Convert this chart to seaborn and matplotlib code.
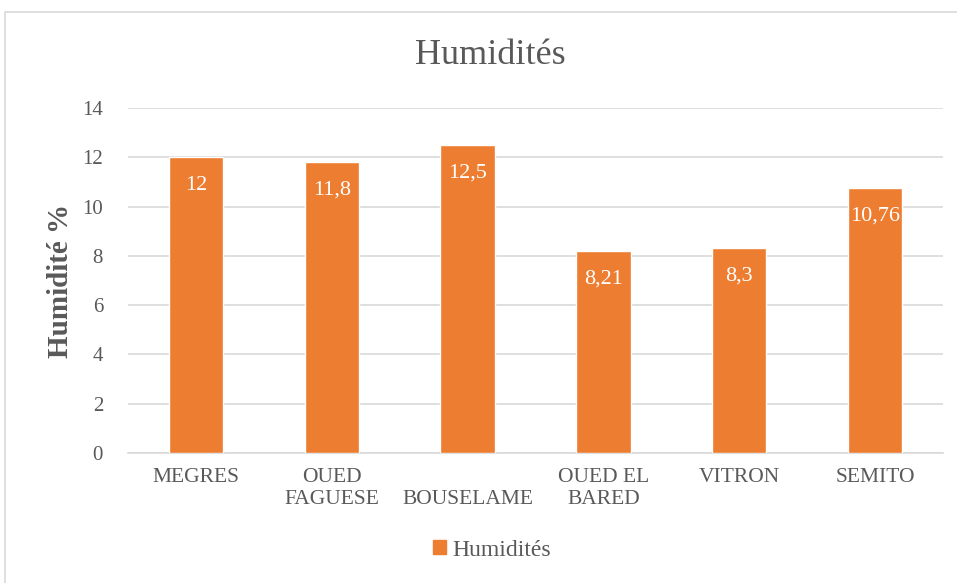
import pandas as pd
import seaborn as sns
import matplotlib.pyplot as plt
from matplotlib.patches import Rectangle, Patch

# Data
sites = ['MEGRES', 'OUED\nFAGUESE', '\nBOUSELAME', 'OUED EL\nBARED', 'VITRON', 'SEMITO']
humidity = [12, 11.8, 12.5, 8.21, 8.3, 10.76]
value_labels = ['12', '11,8', '12,5', '8,21', '8,3', '10,76']
y_ticks = [0, 2, 4, 6, 8, 10, 12, 14]

BAR_COLOR = '#ED7D31'
TEXT_COLOR = '#595959'
GRID_COLOR = '#D9D9D9'


def main():
    sns.set_style('white')
    plt.rcParams['font.family'] = ['Liberation Serif', 'DejaVu Serif']

    df = pd.DataFrame({'site': sites, 'humidity': humidity})

    fig = plt.figure(figsize=(9.57, 5.83), dpi=100)
    ax = fig.add_axes([128 / 957, 1 - 453 / 583, (943 - 128) / 957, (453 - 108) / 583])

    sns.barplot(data=df, x='site', y='humidity', color=BAR_COLOR, width=0.4,
                saturation=1, ax=ax, zorder=3)

    # value labels inside the top of the bars
    for i, (v, lab) in enumerate(zip(humidity, value_labels)):
        ax.annotate(lab, xy=(i, v), xytext=(0, -28), textcoords='offset pixels',
                    ha='center', va='center', color='white', fontsize=16)

    ax.set_ylim(0, 14)
    ax.set_yticks(y_ticks)
    ax.set_yticklabels([str(t) for t in y_ticks], fontsize=15, color=TEXT_COLOR)
    ax.grid(axis='y', color=GRID_COLOR, linewidth=1.2, zorder=0)
    ax.set_axisbelow(True)
    for s in ['top', 'right', 'left']:
        ax.spines[s].set_visible(False)
    ax.spines['bottom'].set_color(GRID_COLOR)
    ax.spines['bottom'].set_linewidth(1.2)
    ax.tick_params(axis='both', length=0)
    ax.tick_params(axis='y', pad=18)
    ax.tick_params(axis='x', pad=11)
    for t in ax.get_xticklabels():
        t.set_fontsize(15.5)
        t.set_color(TEXT_COLOR)
        t.set_verticalalignment('top')
        t.set_linespacing(1.2)

    ax.set_xlabel('')
    ax.set_ylabel('Humidité %', fontsize=21, fontweight='bold', color=TEXT_COLOR, labelpad=6)

    fig.text(490 / 957, 1 - 56 / 583, 'Humidités', ha='center', va='center',
             fontsize=26, color=TEXT_COLOR)

    fig.legend(handles=[Patch(color=BAR_COLOR, label='Humidités')],
               loc='center', bbox_to_anchor=(492 / 957, 1 - 550 / 583),
               frameon=False, fontsize=17, handlelength=0.55, handleheight=0.55,
               handletextpad=0.25, labelcolor=TEXT_COLOR)

    # outer chart border
    fig.patches.append(Rectangle((5 / 957, -0.01), 1.0, 1 - 12 / 583 + 0.01,
                                 transform=fig.transFigure, fill=False,
                                 edgecolor='#D9D9D9', linewidth=1.2))

    fig.savefig('out.png', dpi=100)
    plt.close(fig)


if __name__ == '__main__':
    main()
